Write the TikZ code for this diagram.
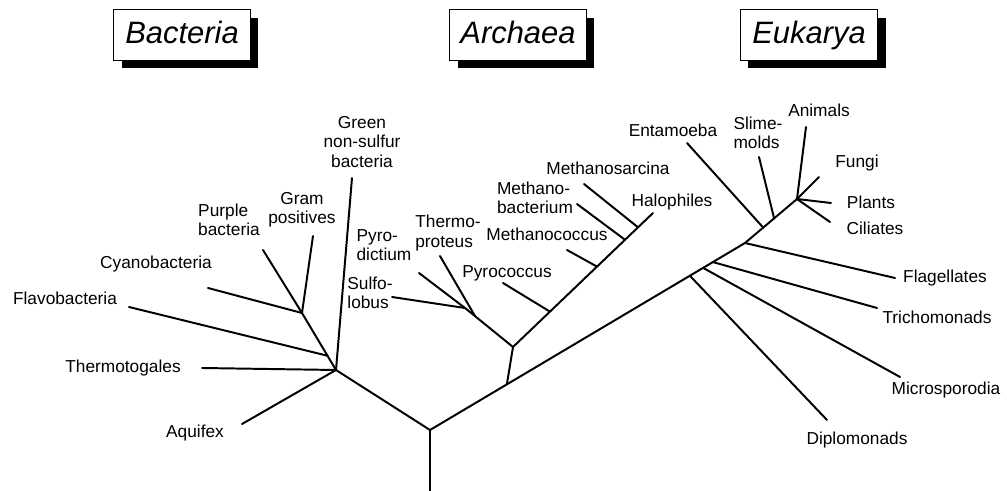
\documentclass[tikz,border=0pt]{standalone}
\usepackage{fontspec}
\setmainfont{Liberation Sans}
\usetikzlibrary{calc,shadows}
\tikzset{
  domainbox/.style={rectangle, draw, line width=0.7pt, fill=white,
    minimum width=97pt, minimum height=36pt, inner sep=0pt,
    text height=16pt, text depth=4.5pt,
    font=\fontsize{22}{26}\selectfont\itshape,
    drop shadow={shadow xshift=5.7pt, shadow yshift=-5.7pt, fill=black, opacity=1}},
  taxon/.style={inner sep=0pt, align=left, font=\fontsize{12.3}{13.8}\selectfont},
  branch/.style={line width=1.4pt, line cap=round}
}

\begin{document}
\begin{tikzpicture}[x=0.025cm, y=-0.025cm]
  \useasboundingbox (0,0) rectangle (1007,491);

  % domains
  \node[domainbox] (bacteria) at (182,35) {Bacteria};
  \node[domainbox] (archaea) at (518,35) {Archaea};
  \node[domainbox, minimum width=98pt] (eukarya) at (809,35) {Eukarya};

  % inner points of the tree
  \coordinate (base) at (430,491);
  \coordinate (root) at (430,430);
  \coordinate (bac) at (336,370);
  \coordinate (bac2) at (302,313);
  \coordinate (euk) at (745,243);
  \coordinate (crown) at (797,199);
  \coordinate (arc) at (513,347);
  \coordinate (cren2) at (465,308);
  \coordinate (cren) at ($(arc)!0.79!(cren2)$);
  \coordinate (arcjoin) at ($(root)!0.244!(euk)$);

  % free ends
  \coordinate (tthermotogales) at (202,368);
  \coordinate (taquifex) at (242,424);
  \coordinate (tflavo) at (129,307);
  \coordinate (tcyano) at (208,288);
  \coordinate (tpurple) at (263,250);
  \coordinate (tgram) at (313,236);
  \coordinate (tgreen) at (352,178);
  \coordinate (tsulfo) at (392,297);
  \coordinate (tpyrod) at (419,273);
  \coordinate (tthermop) at (440,256);
  \coordinate (tpyroc) at (503,283);
  \coordinate (tmcoc) at (567,250);
  \coordinate (tmbac) at (577,204);
  \coordinate (tmsar) at (584,184);
  \coordinate (thalo) at (653,213);
  \coordinate (tenta) at (687,143);
  \coordinate (tslime) at (759,157);
  \coordinate (tanimals) at (806,127);
  \coordinate (tfungi) at (819,177);
  \coordinate (tplants) at (831,203);
  \coordinate (tciliates) at (830,222);
  \coordinate (tflag) at (895,278);
  \coordinate (ttricho) at (877,308);
  \coordinate (tmicro) at (900,377);
  \coordinate (tdiplo) at (827,420);

  % labels
  \node[taxon] (lthermotogales) at (123,368) {Thermotogales};
  \node[taxon] (laquifex) at (195,433) {Aquifex};
  \node[taxon] (lflavo) at (65,298) {Flavobacteria};
  \node[taxon] (lcyano) at (156,264) {Cyanobacteria};
  \node[taxon] (lpurple) at (229,220) {Purple\\bacteria};
  \node[taxon, align=center] (lgram) at (302,210) {Gram\\positives};
  \node[taxon, align=center] (lgreen) at (362,142) {Green\\non-sulfur\\bacteria};
  \node[taxon] (lpyrod) at (384,245) {Pyro-\\dictium};
  \node[taxon] (lsulfo) at (370,293) {Sulfo-\\lobus};
  \node[taxon] (lthermop) at (448,233) {Thermo-\\proteus};
  \node[taxon] (lpyroc) at (507,273) {Pyrococcus};
  \node[taxon] (lmcoc) at (547,234) {Methanococcus};
  \node[taxon] (lmbac) at (535,198) {Methano-\\bacterium};
  \node[taxon] (lmsar) at (608,168) {Methanosarcina};
  \node[taxon] (lhalo) at (672,202) {Halophiles};
  \node[taxon] (lenta) at (673,130) {Entamoeba};
  \node[taxon] (lslime) at (758,133) {Slime-\\molds};
  \node[taxon] (lanimals) at (819,110) {Animals};
  \node[taxon] (lfungi) at (857,163) {Fungi};
  \node[taxon] (lplants) at (871,202) {Plants};
  \node[taxon] (lciliates) at (875,228) {Ciliates};
  \node[taxon] (lflag) at (945,278) {Flagellates};
  \node[taxon] (ltricho) at (937,317) {Trichomonads};
  \node[taxon] (lmicro) at (946,390) {Microsporodia};
  \node[taxon] (ldiplo) at (857,440) {Diplomonads};

  % trunk
  \draw[branch] (base) -- (root);
  \draw[branch] (root) -- (bac);
  \draw[branch] (root) -- (euk) -- (crown);

  % bacteria
  \draw[branch] (bac) -- (tthermotogales);
  \draw[branch] (bac) -- (taquifex);
  \draw[branch] (bac) -- (tgreen);
  \draw[branch] (bac) -- (bac2);
  \draw[branch] ($(bac)!0.25!(bac2)$) -- (tflavo);
  \draw[branch] (bac2) -- (tcyano);
  \draw[branch] (bac2) -- (tpurple);
  \draw[branch] (bac2) -- (tgram);

  % archaea
  \draw[branch] (arcjoin) -- (arc);
  \draw[branch] (arc) -- (cren2);
  \draw[branch] (cren) -- (tthermop);
  \draw[branch] (cren2) -- (tsulfo);
  \draw[branch] (cren2) -- (tpyrod);
  \draw[branch] (arc) -- (thalo);
  \draw[branch] ($(arc)!0.264!(thalo)$) -- (tpyroc);
  \draw[branch] ($(arc)!0.6!(thalo)$) -- (tmcoc);
  \draw[branch] ($(arc)!0.8!(thalo)$) -- (tmbac);
  \draw[branch] ($(arc)!0.893!(thalo)$) -- (tmsar);

  % eukarya
  \draw[branch] ($(root)!0.825!(euk)$) -- (tdiplo);
  \draw[branch] ($(root)!0.867!(euk)$) -- (tmicro);
  \draw[branch] ($(root)!0.898!(euk)$) -- (ttricho);
  \draw[branch] (euk) -- (tflag);
  \draw[branch] ($(euk)!0.35!(crown)$) -- (tenta);
  \draw[branch] ($(euk)!0.56!(crown)$) -- (tslime);
  \draw[branch] (crown) -- (tanimals);
  \draw[branch] (crown) -- (tfungi);
  \draw[branch] (crown) -- (tplants);
  \draw[branch] (crown) -- (tciliates);
\end{tikzpicture}
\end{document}
